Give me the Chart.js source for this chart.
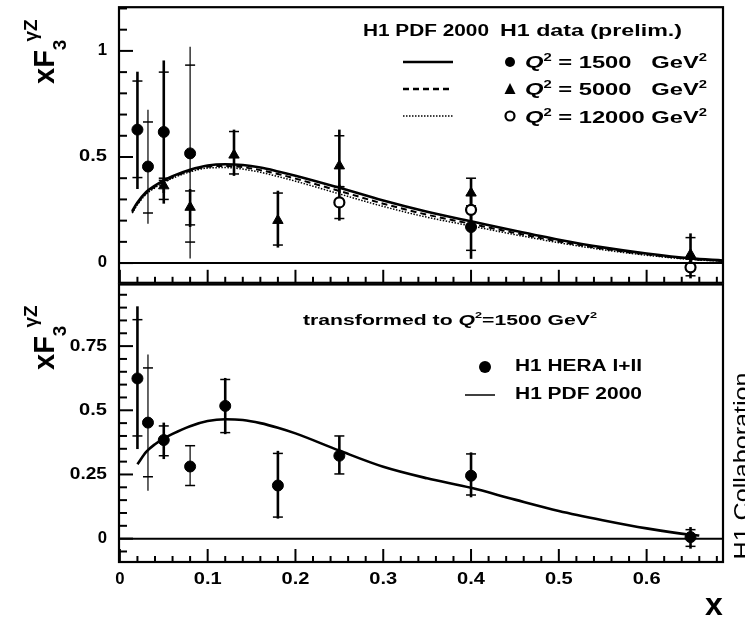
<!DOCTYPE html>
<html><head><meta charset="utf-8">
<script src="https://cdn.jsdelivr.net/npm/chart.js@4/dist/chart.umd.min.js"></script>
<style>
html,body{margin:0;padding:0;background:#fff;}
#wrap{position:relative;width:745px;height:619px;overflow:hidden;background:#fff;}
#c1{position:absolute;left:0;top:0;}
#c2{position:absolute;left:0;top:278px;}
</style></head><body>
<div id="wrap">
<canvas id="c1" width="745" height="290"></canvas>
<canvas id="c2" width="745" height="341"></canvas>
</div>
<script>
// ---------- axis tick labels ----------
const xTickValues = [0, 0.1, 0.2, 0.3, 0.4, 0.5, 0.6];
const xTickLabels = ['0', '0.1', '0.2', '0.3', '0.4', '0.5', '0.6'];
const topYTickValues = [0, 0.5, 1];
const topYTickLabels = ['0', '0.5', '1'];
const botYTickValues = [0, 0.25, 0.5, 0.75];
const botYTickLabels = ['0', '0.25', '0.5', '0.75'];

// ---------- top panel: H1 PDF 2000 curves ----------
const curveX   = [0.014,0.02,0.03,0.04,0.05,0.06,0.08,0.1,0.12,0.14,0.16,0.18,0.2,0.25,0.3,0.35,0.4,0.45,0.5,0.55,0.6,0.65,0.687];
const pdf1500  = [0.245,0.285,0.335,0.365,0.39,0.41,0.44,0.46,0.466,0.462,0.45,0.432,0.412,0.355,0.295,0.242,0.197,0.152,0.11,0.074,0.045,0.022,0.012];
const pdf5000  = [0.24,0.28,0.33,0.36,0.385,0.405,0.435,0.454,0.458,0.452,0.438,0.42,0.398,0.34,0.28,0.228,0.185,0.142,0.102,0.068,0.041,0.019,0.01];
const pdf12000 = [0.235,0.275,0.325,0.355,0.38,0.4,0.43,0.448,0.45,0.443,0.428,0.408,0.386,0.326,0.267,0.216,0.175,0.134,0.096,0.063,0.037,0.017,0.009];

// ---------- top panel: H1 data (prelim.) ----------
const q1500X      = [0.02, 0.032, 0.05, 0.08, 0.4];
const q1500Y      = [0.629, 0.455, 0.618, 0.517, 0.17];
const q1500TotLo  = [0.349, 0.185, 0.33, 0.022, 0.02];
const q1500TotHi  = [0.902, 0.723, 0.955, 1.019, 0.25];
const q1500StatLo = [0.403, 0.236, 0.40, 0.099, 0.06];
const q1500StatHi = [0.858, 0.665, 0.90, 0.933, 0.24];

const q5000X      = [0.05, 0.08, 0.13, 0.18, 0.25, 0.4, 0.65];
const q5000Y      = [0.364, 0.263, 0.509, 0.201, 0.458, 0.33, 0.04];
const q5000TotLo  = [0.28, 0.17, 0.411, 0.073, 0.33, 0.26, -0.03];
const q5000TotHi  = [0.40, 0.349, 0.629, 0.341, 0.629, 0.40, 0.14];
const q5000StatLo = [0.30, 0.18, 0.42, 0.085, 0.36, 0.27, 0.0];
const q5000StatHi = [0.39, 0.34, 0.62, 0.33, 0.60, 0.40, 0.12];

const q12000X      = [0.25, 0.4, 0.65];
const q12000Y      = [0.286, 0.251, -0.02];
const q12000TotLo  = [0.20, 0.17, -0.072];
const q12000TotHi  = [0.37, 0.33, 0.03];
const q12000StatLo = [0.21, 0.18, -0.06];
const q12000StatHi = [0.36, 0.32, 0.02];

// ---------- bottom panel: transformed to Q2 = 1500 GeV2 ----------
const botCurveX = [0.02,0.03,0.04,0.05,0.06,0.08,0.1,0.12,0.14,0.16,0.18,0.2,0.25,0.3,0.35,0.4,0.45,0.5,0.55,0.6,0.65,0.66];
const botPdf    = [0.29,0.338,0.368,0.39,0.408,0.438,0.458,0.465,0.462,0.45,0.432,0.41,0.343,0.28,0.235,0.198,0.152,0.108,0.072,0.04,0.015,0.012];

const heraX      = [0.02, 0.032, 0.05, 0.08, 0.12, 0.18, 0.25, 0.4, 0.65];
const heraY      = [0.624, 0.452, 0.384, 0.281, 0.517, 0.207, 0.323, 0.245, 0.006];
const heraTotLo  = [0.349, 0.187, 0.31, 0.207, 0.407, 0.078, 0.252, 0.161, -0.039];
const heraTotHi  = [0.905, 0.717, 0.452, 0.362, 0.626, 0.342, 0.40, 0.336, 0.045];
const heraStatLo = [0.40, 0.241, 0.323, 0.207, 0.413, 0.084, 0.252, 0.17, -0.03];
const heraStatHi = [0.853, 0.665, 0.439, 0.362, 0.62, 0.332, 0.40, 0.33, 0.035];

// ---------- helpers ----------
const FONT = '"Liberation Sans", Arial, Helvetica, sans-serif';
const pts = (xs, ys) => xs.map((x, i) => ({x: x, y: ys[i]}));

function runsWidth(ctx, runs) {
  let w = 0;
  runs.forEach(r => { ctx.font = r.font; w += ctx.measureText(r.t).width; });
  return w;
}
function drawRuns(ctx, runs, x, y, targetW, rotate) {
  ctx.save();
  ctx.translate(x, y);
  if (rotate) ctx.rotate(-Math.PI / 2);
  const w = runsWidth(ctx, runs);
  const sx = targetW ? targetW / w : 1;
  ctx.scale(sx, 1);
  ctx.fillStyle = '#000';
  ctx.textBaseline = 'alphabetic';
  ctx.textAlign = 'left';
  let cx = 0;
  runs.forEach(r => {
    ctx.font = r.font;
    ctx.fillText(r.t, cx, r.dy || 0);
    cx += ctx.measureText(r.t).width + (r.gap || 0);
  });
  ctx.restore();
}
function fitText(ctx, s, font, x, y, targetW, align) {
  ctx.save();
  ctx.font = font;
  const w = ctx.measureText(s).width;
  const sx = targetW / w;
  ctx.translate(x, y);
  ctx.scale(sx, 1);
  ctx.fillStyle = '#000';
  ctx.textAlign = align || 'left';
  ctx.textBaseline = 'middle';
  ctx.fillText(s, 0, 0);
  ctx.restore();
}
function line(ctx, x1, y1, x2, y2, w, dash) {
  ctx.save();
  ctx.lineWidth = w;
  ctx.strokeStyle = '#000';
  ctx.setLineDash(dash || []);
  ctx.beginPath(); ctx.moveTo(x1, y1); ctx.lineTo(x2, y2); ctx.stroke();
  ctx.restore();
}

function drawErrorBars(chart, sets) {
  const ctx = chart.ctx, xs = chart.scales.x, ys = chart.scales.y;
  sets.forEach(s => {
    s.x.forEach((xv, i) => {
      const px = xs.getPixelForValue(xv);
      const w = (s.thin && s.thin.indexOf(i) >= 0) ? 1.2 : 2.6;
      line(ctx, px, ys.getPixelForValue(s.lo[i]), px, ys.getPixelForValue(s.hi[i]), w);
      line(ctx, px - 5, ys.getPixelForValue(s.slo[i]), px + 5, ys.getPixelForValue(s.slo[i]), 1.5);
      line(ctx, px - 5, ys.getPixelForValue(s.shi[i]), px + 5, ys.getPixelForValue(s.shi[i]), 1.5);
    });
  });
}

function drawFrameAndTicks(chart, cfg) {
  const ctx = chart.ctx, a = chart.chartArea, xs = chart.scales.x, ys = chart.scales.y;
  const y0 = ys.getPixelForValue(0);
  line(ctx, a.left, y0, a.right, y0, 2);
  ctx.save(); ctx.lineWidth = 2.2; ctx.strokeStyle = '#000';
  ctx.strokeRect(a.left, a.top, a.right - a.left, a.bottom - a.top);
  ctx.restore();
  for (let k = 0; k <= 35; k++) {
    const v = k * 0.02;
    if (v > xs.max) break;
    const px = xs.getPixelForValue(v);
    const major = k % 5 === 0;
    line(ctx, px, a.bottom, px, a.bottom - (major ? 13 : 6), 2);
  }
  for (let k = -10; k <= 30; k++) {
    const v = k * cfg.yMinor;
    if (v < ys.min || v > ys.max) continue;
    const py = ys.getPixelForValue(v);
    const major = Math.abs(v / cfg.yMajor - Math.round(v / cfg.yMajor)) < 1e-6;
    line(ctx, a.left, py, a.left + (major ? 14 : 8), py, 2);
  }
  cfg.yTicks.forEach((v, i) => {
    const py = ys.getPixelForValue(v);
    const lbl = cfg.yLabels[i];
    fitText(ctx, lbl, 'bold 16px ' + FONT, 107, py, lbl.length * 9.3, 'right');
  });
  if (cfg.xLabels) {
    xTickValues.forEach((v, i) => {
      const px = xs.getPixelForValue(v);
      const lbl = xTickLabels[i];
      fitText(ctx, lbl, 'bold 16px ' + FONT, px, a.bottom + 18, lbl.length * 9.3, 'center');
    });
  }
}

function yTitle(ctx, x, y) {
  const big = 'bold 29px ' + FONT, small = 'bold 19px ' + FONT;
  drawRuns(ctx, [
    {t: 'xF', font: big},
    {t: '3', font: small, dy: 12, gap: -2},
    {t: 'γZ', font: small, dy: -17}
  ], x, y, null, true);
}

// ---------- top chart ----------
const topPlugin = {
  id: 'topDecor',
  beforeDatasetsDraw(chart) {
    drawErrorBars(chart, [
      {x: q1500X, lo: q1500TotLo, hi: q1500TotHi, slo: q1500StatLo, shi: q1500StatHi, thin: [1, 3]},
      {x: q5000X, lo: q5000TotLo, hi: q5000TotHi, slo: q5000StatLo, shi: q5000StatHi},
      {x: q12000X, lo: q12000TotLo, hi: q12000TotHi, slo: q12000StatLo, shi: q12000StatHi}
    ]);
  },
  afterDraw(chart) {
    const ctx = chart.ctx;
    drawFrameAndTicks(chart, {yMinor: 0.1, yMajor: 0.5, yTicks: topYTickValues, yLabels: topYTickLabels, xLabels: false});
    yTitle(ctx, 54, 84);
    const B = 'bold 16px ' + FONT, BI = 'bold italic 16px ' + FONT, S = 'bold 10px ' + FONT;
    fitText(ctx, 'H1 PDF 2000', B, 363, 32, 126);
    fitText(ctx, 'H1 data (prelim.)', B, 500, 32, 182);
    line(ctx, 403, 62, 453, 62, 2.5);
    line(ctx, 403, 89, 453, 89, 2.5, [6, 4]);
    line(ctx, 403, 116, 453, 116, 1.5, [1.5, 1.5]);
    ctx.save(); ctx.fillStyle = '#000';
    ctx.beginPath(); ctx.arc(510, 62, 5, 0, 2 * Math.PI); ctx.fill();
    ctx.beginPath(); ctx.moveTo(510, 83); ctx.lineTo(515.5, 94); ctx.lineTo(504.5, 94); ctx.closePath(); ctx.fill();
    ctx.lineWidth = 2.2; ctx.beginPath(); ctx.arc(510, 116, 4.5, 0, 2 * Math.PI); ctx.stroke();
    ctx.restore();
    const rows = [['1500   ', 62], ['5000   ', 89], ['12000 ', 117]];
    rows.forEach(r => {
      drawRuns(ctx, [
        {t: 'Q', font: BI}, {t: '2', font: S, dy: -7}, {t: ' = ' + r[0] + 'GeV', font: B}, {t: '2', font: S, dy: -7}
      ], 525, r[1] + 6, 182, false);
    });
  }
};

new Chart(document.getElementById('c1'), {
  type: 'scatter',
  data: {
    datasets: [
      {type: 'line', data: pts(curveX, pdf1500), borderColor: '#000', borderWidth: 2.6, pointRadius: 0, cubicInterpolationMode: 'monotone', order: 5},
      {type: 'line', data: pts(curveX, pdf5000), borderColor: '#000', borderWidth: 2, borderDash: [6, 4], pointRadius: 0, cubicInterpolationMode: 'monotone', order: 5},
      {type: 'line', data: pts(curveX, pdf12000), borderColor: '#000', borderWidth: 1.5, borderDash: [1.5, 1.5], pointRadius: 0, cubicInterpolationMode: 'monotone', order: 5},
      {label: 'Q2 = 1500 GeV2', data: pts(q1500X, q1500Y), pointStyle: 'circle', pointRadius: 5.5, backgroundColor: '#000', borderColor: '#000', order: 1},
      {label: 'Q2 = 5000 GeV2', data: pts(q5000X, q5000Y), pointStyle: 'triangle', pointRadius: 6, backgroundColor: '#000', borderColor: '#000', order: 1},
      {label: 'Q2 = 12000 GeV2', data: pts(q12000X, q12000Y), pointStyle: 'circle', pointRadius: 5, backgroundColor: '#fff', borderColor: '#000', borderWidth: 2.2, order: 1}
    ]
  },
  options: {
    responsive: false, animation: false, events: [],
    layout: {padding: {left: 119, top: 5, right: 22, bottom: 7}},
    plugins: {legend: {display: false}, tooltip: {enabled: false}},
    scales: {
      x: {type: 'linear', min: -0.001, max: 0.687, display: false},
      y: {type: 'linear', min: -0.093, max: 1.206, display: false}
    }
  },
  plugins: [topPlugin]
});

// ---------- bottom chart ----------
const botPlugin = {
  id: 'botDecor',
  beforeDatasetsDraw(chart) {
    drawErrorBars(chart, [
      {x: heraX, lo: heraTotLo, hi: heraTotHi, slo: heraStatLo, shi: heraStatHi, thin: [1, 3]}
    ]);
  },
  afterDraw(chart) {
    const ctx = chart.ctx;
    drawFrameAndTicks(chart, {yMinor: 0.05, yMajor: 0.25, yTicks: botYTickValues, yLabels: botYTickLabels, xLabels: true});
    yTitle(ctx, 54, 92);
    const B = 'bold 15px ' + FONT, BI = 'bold italic 15px ' + FONT, S = 'bold 9px ' + FONT;
    drawRuns(ctx, [
      {t: 'transformed to ', font: B}, {t: 'Q', font: BI}, {t: '2', font: S, dy: -7},
      {t: '=1500 GeV', font: B}, {t: '2', font: S, dy: -7}
    ], 303, 47, 294, false);
    ctx.save(); ctx.fillStyle = '#000';
    ctx.beginPath(); ctx.arc(485, 89, 6, 0, 2 * Math.PI); ctx.fill();
    ctx.restore();
    fitText(ctx, 'H1 HERA I+II', 'bold 16px ' + FONT, 515, 89, 127);
    line(ctx, 465, 117, 495, 117, 1.5);
    fitText(ctx, 'H1 PDF 2000', 'bold 16px ' + FONT, 515, 117, 127);
    ctx.save(); ctx.font = 'bold 32px ' + FONT; ctx.fillStyle = '#000'; ctx.textAlign = 'center';
    ctx.fillText('x', 714, 337); ctx.restore();
    ctx.save(); ctx.translate(749, 466 - 278); ctx.rotate(-Math.PI / 2);
    ctx.font = '22px ' + FONT; ctx.fillStyle = '#000'; ctx.textAlign = 'center';
    const w = ctx.measureText('H1 Collaboration').width; ctx.scale(187 / w, 1);
    ctx.fillText('H1 Collaboration', 0, 0); ctx.restore();
  }
};

new Chart(document.getElementById('c2'), {
  type: 'scatter',
  data: {
    datasets: [
      {type: 'line', data: pts(botCurveX, botPdf), borderColor: '#000', borderWidth: 2.6, pointRadius: 0, cubicInterpolationMode: 'monotone', order: 5},
      {label: 'H1 HERA I+II', data: pts(heraX, heraY), pointStyle: 'circle', pointRadius: 5.5, backgroundColor: '#000', borderColor: '#000', order: 1}
    ]
  },
  options: {
    responsive: false, animation: false, events: [],
    layout: {padding: {left: 119, top: 5, right: 22, bottom: 57}},
    plugins: {legend: {display: false}, tooltip: {enabled: false}},
    scales: {
      x: {type: 'linear', min: -0.001, max: 0.687, display: false},
      y: {type: 'linear', min: -0.091, max: 0.99, display: false}
    }
  },
  plugins: [botPlugin]
});
</script>
</body></html>
